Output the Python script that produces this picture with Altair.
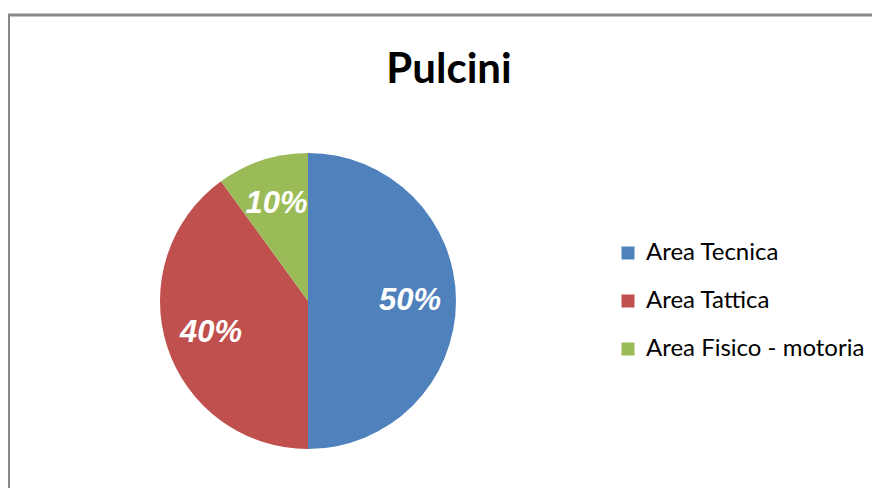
import altair as alt
import pandas as pd

title_text = "Pulcini"
categories = ["Area Tecnica", "Area Tattica", "Area Fisico - motoria"]
values = [50, 40, 10]
labels = ["50%", "40%", "10%"]
colors = ["#4F81BD", "#C0504D", "#9BBB59"]
order = [0, 1, 2]

df = pd.DataFrame({"categoria": categories, "valore": values,
                   "etichetta": labels, "ordine": order})

W, H = 864, 390
CX, CY = 300, 203

base = alt.Chart(df).encode(
    theta=alt.Theta("valore:Q", stack=True),
    order=alt.Order("ordine:Q"),
)

pie = base.mark_arc(outerRadius=148).encode(
    color=alt.Color(
        "categoria:N", sort=categories,
        scale=alt.Scale(domain=categories, range=colors),
        legend=alt.Legend(
            title=None, orient="none", legendX=608, legendY=143,
            symbolType="square", symbolSize=169, symbolStrokeWidth=0,
            labelFontSize=24, labelFont="Lato", labelColor="#000000",
            rowPadding=24, labelOffset=6, labelLimit=400,
        ),
    ),
    x=alt.value(CX), y=alt.value(CY),
)

text = base.mark_text(
    radius=102, font="Liberation Sans", fontSize=31, fontWeight="bold",
    fontStyle="italic", color="white",
).encode(text="etichetta:N", x=alt.value(CX), y=alt.value(CY))

tdf = pd.DataFrame({"t": [title_text]})
title = alt.Chart(tdf).mark_text(
    font="Lato", fontSize=42, fontWeight="bold", color="black",
    align="center", baseline="alphabetic",
).encode(text="t:N", x=alt.value(441), y=alt.value(-15))

bdf = pd.DataFrame({"k": [0]})
left = alt.Chart(bdf).mark_rule(color="#888888", strokeWidth=3).encode(
    x=alt.value(0.5), y=alt.value(-83), y2=alt.value(H + 10))
top = alt.Chart(bdf).mark_rule(color="#888888", strokeWidth=3).encode(
    x=alt.value(0), x2=alt.value(W + 10), y=alt.value(-83))

chart = alt.layer(left, top, title, pie, text).properties(
    width=W, height=H,
    padding={"left": 0, "top": 90, "right": 0, "bottom": 0},
    autosize="none",
    background="white",
).configure_view(stroke=None)

chart.save("out.html", embed_options={"renderer": "svg", "actions": False})
